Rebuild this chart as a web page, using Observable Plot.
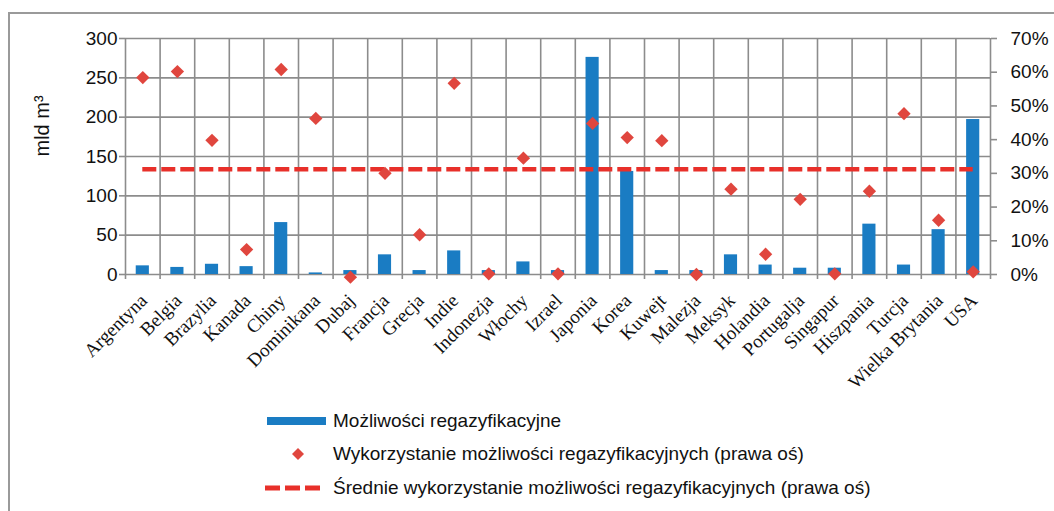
<!DOCTYPE html>
<html>
<head>
<meta charset="utf-8">
<script src="https://cdn.jsdelivr.net/npm/d3@7"></script>
<script src="https://cdn.jsdelivr.net/npm/@observablehq/plot@0.6"></script>
<style>
  html, body { margin: 0; padding: 0; background: #fff; }
  #wrap { position: relative; width: 1054px; height: 511px; overflow: hidden; }
  #frame { position: absolute; left: 8px; top: 12px; width: 1100px; height: 600px;
           border-left: 2px solid #9a9a9a; border-top: 2px solid #9a9a9a; box-sizing: border-box; }
  #chart { position: absolute; left: 0; top: 0; }
  #legend { position: absolute; left: 262px; top: 404px; font-family: "Liberation Sans", Arial, sans-serif;
            font-size: 19px; color: #111; }
  .row { display: flex; align-items: center; height: 33.5px; }
  .sw { width: 71px; display: flex; align-items: center; justify-content: flex-start; }
</style>
</head>
<body>
<div id="wrap">
  <div id="frame"></div>
  <div id="chart"></div>
  <div id="legend"></div>
</div>
<script>
const categories = ["Argentyna","Belgia","Brazylia","Kanada","Chiny","Dominikana","Dubaj","Francja","Grecja","Indie","Indonezja","Włochy","Izrael","Japonia","Korea","Kuwejt","Malezja","Meksyk","Holandia","Portugalja","Singapur","Hiszpania","Turcja","Wielka Brytania","USA"];
// Możliwości regazyfikacyjne (mld m3)
const capacity = [11, 9, 13, 10, 66, 2, 5, 25, 5, 30, 5, 16, 5, 276, 131, 5, 5, 25, 12, 8, 8, 64, 12, 57, 197];
// Wykorzystanie możliwości regazyfikacyjnych (%)
const utilization = [58.4, 60.2, 39.8, 7.4, 60.8, 46.3, -0.8, 30.0, 11.8, 56.7, 0.2, 34.5, 0.2, 44.8, 40.6, 39.7, 0.0, 25.3, 6.0, 22.3, 0.2, 24.7, 47.7, 16.1, 0.8];
// Średnie wykorzystanie (%)
const avgUtilization = 31.2;
const leftTicks = [0, 50, 100, 150, 200, 250, 300];
const rightTicks = [0, 10, 20, 30, 40, 50, 60, 70];

const leftMax = 300, rightMax = 70;
const toLeft = p => p * leftMax / rightMax;

const data = categories.map((c, i) => ({c, i, cap: capacity[i], util: utilization[i]}));
const boundaries = d3.range(categories.length + 1);
const centers = d3.range(categories.length).map(i => i + 0.5);

const blue = "#1a7cc3", red = "#e0463e", dashRed = "#e8302a", grid = "#8c8c8c";
const half = 0.19;

const chart = Plot.plot({
  width: 1054,
  height: 400,
  marginLeft: 125,
  marginRight: 64,
  marginTop: 38,
  marginBottom: 126,
  x: {type: "linear", domain: [0, categories.length]},
  y: {domain: [0, leftMax]},
  style: {fontFamily: "'Liberation Sans', Arial, sans-serif", fontSize: "19px", color: "#111", background: "transparent", overflow: "visible"},
  marks: [
    Plot.ruleY(leftTicks, {stroke: grid, strokeWidth: 1.6}),
    Plot.ruleX(boundaries, {stroke: grid, strokeWidth: 1.6}),
    Plot.axisY({ticks: leftTicks, tickSize: 6, tickPadding: 2, stroke: grid, strokeWidth: 1.6, label: null, fontSize: 19}),
    Plot.axisY({anchor: "right", ticks: rightTicks.map(toLeft), tickFormat: d => Math.round(d * rightMax / leftMax) + "%", tickSize: 6, tickPadding: 14, stroke: grid, strokeWidth: 1.6, label: null, fontSize: 19}),
    Plot.axisX({ticks: boundaries, tickSize: 5, tickFormat: () => "", stroke: grid, strokeWidth: 1.6, label: null}),
    Plot.axisX({ticks: centers, tickSize: 0, tickPadding: 23, tickRotate: -45, tickFormat: d => categories[Math.floor(d)], fontFamily: "'Liberation Serif', 'Times New Roman', serif", fontSize: 19, dx: 1, label: null}),
    Plot.rectY(data, {x1: d => d.i + 0.5 - half, x2: d => d.i + 0.5 + half, y1: 0, y2: "cap", fill: blue}),
    Plot.ruleY([toLeft(avgUtilization)], {x1: 0.5, x2: categories.length - 0.5, stroke: dashRed, strokeWidth: 4.5, strokeDasharray: "14,5"}),
    Plot.dot(data, {x: d => d.i + 0.5, y: d => toLeft(d.util), symbol: "diamond2", r: 6, fill: red, stroke: "none"}),
    Plot.text(["mld m³"], {frameAnchor: "left", dx: -83, rotate: -90, fontSize: 20, text: d => d})
  ]
});
document.getElementById("chart").appendChild(chart);

// legend
const legendItems = [
  {label: "Możliwości regazyfikacyjne", kind: "bar"},
  {label: "Wykorzystanie możliwości regazyfikacyjnych (prawa oś)", kind: "dot"},
  {label: "Średnie wykorzystanie możliwości regazyfikacyjnych (prawa oś)", kind: "dash"}
];
const legend = document.getElementById("legend");
for (const it of legendItems) {
  const row = document.createElement("div");
  row.className = "row";
  let sw;
  if (it.kind === "bar") sw = `<svg width="64" height="12"><rect x="5" y="2" width="59" height="8" fill="${blue}"/></svg>`;
  else if (it.kind === "dot") sw = `<svg width="64" height="14"><path d="M36,1 L42,7 L36,13 L30,7 Z" fill="${red}"/></svg>`;
  else sw = `<svg width="64" height="12"><line x1="3" x2="58" y1="6" y2="6" stroke="${dashRed}" stroke-width="5" stroke-dasharray="15,5"/></svg>`;
  row.innerHTML = `<div class="sw">${sw}</div><span>${it.label}</span>`;
  legend.appendChild(row);
}
</script>
</body>
</html>
